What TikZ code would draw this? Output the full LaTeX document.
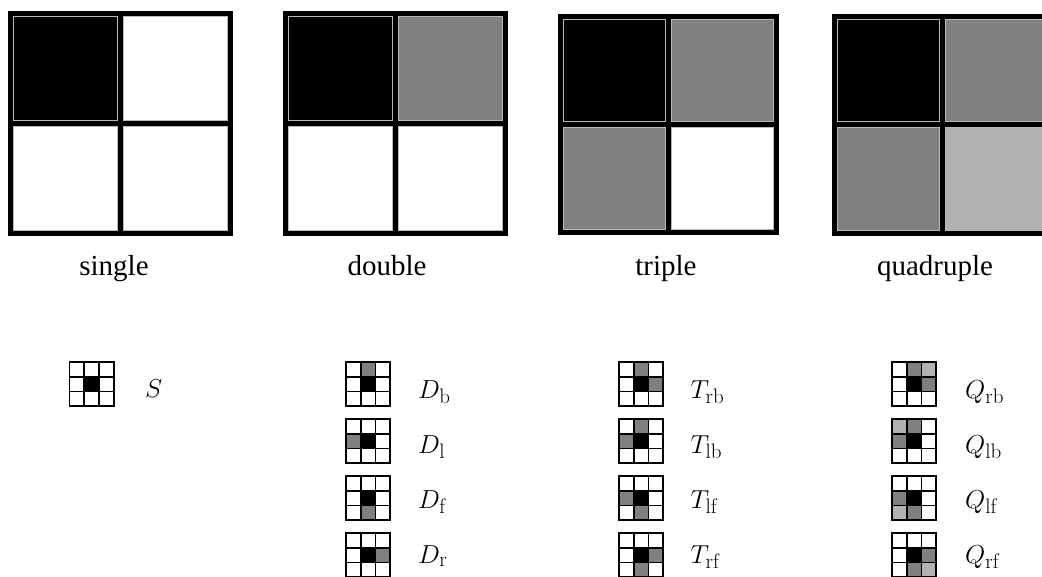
\RequirePackage{fix-cm}
\documentclass[tikz,border=0pt]{standalone}
\usepackage{fontspec}
\newfontfamily\tnr{Liberation Serif}
\DeclareMathSizes{26}{26}{21}{15}
\definecolor{midgray}{gray}{0.5}
\definecolor{litegray}{gray}{0.7}
\tikzset{
  bigcell/.style={draw=gray!55, line width=1pt},
  bigline/.style={line width=5pt},
  smallline/.style={line width=1.8pt, line cap=rect},
  caption/.style={font=\fontsize{29}{34}\selectfont\tnr, anchor=base, inner sep=0pt},
  symlabel/.style={font=\fontsize{26}{30}\selectfont, anchor=base west, inner sep=0pt},
}
% big 2x2 grid: x0, y0, cell, TL, TR, BL, BR
\newcommand\bigsq[7]{%
  \path[bigcell, fill=#4] ({#1+3},{#2+3}) rectangle ({#1+#3-3},{#2+#3-3});
  \path[bigcell, fill=#5] ({#1+#3+3},{#2+3}) rectangle ({#1+2*#3-3},{#2+#3-3});
  \path[bigcell, fill=#6] ({#1+3},{#2+#3+3}) rectangle ({#1+#3-3},{#2+2*#3-3});
  \path[bigcell, fill=#7] ({#1+#3+3},{#2+#3+3}) rectangle ({#1+2*#3-3},{#2+2*#3-3});
  \draw[bigline] (#1,#2) rectangle ({#1+2*#3},{#2+2*#3});
  \draw[bigline] ({#1+#3},#2) -- ({#1+#3},{#2+2*#3});
  \draw[bigline] (#1,{#2+#3}) -- ({#1+2*#3},{#2+#3});
}
% small 3x3 icon: x0, y0, list col/row/colour
\newcommand\icon[3]{%
  \foreach \cc/\rr/\col in {#3} {
    \fill[\col] ({#1+\cc*14.7},{#2+\rr*14.7}) rectangle +(14.7,14.7);
  }
  \fill[black] ({#1+14.7},{#2+14.7}) rectangle +(14.7,14.7);
  \foreach \k in {0,1,2,3} {
    \draw[smallline] ({#1+\k*14.7},#2) -- +(0,44.1);
    \draw[smallline] (#1,{#2+\k*14.7}) -- +(44.1,0);
  }
}
\begin{document}
\begin{tikzpicture}[x=1pt,y=-1pt]
\useasboundingbox (0,0) rectangle (1042,576);
\clip (0,0) rectangle (1042,576);
\fill[white] (0,0) rectangle (1042,576);

\bigsq{10.8}{13.2}{110}{black}{white}{white}{white}
\bigsq{285.8}{13.2}{110}{black}{midgray}{white}{white}
\bigsq{560.5}{16.5}{108.2}{black}{midgray}{midgray}{white}
\bigsq{834}{16.5}{108.3}{black}{midgray}{midgray}{litegray}

\node[caption] (cs) at (114,275) {single};
\node[caption] (cd) at (387,275) {double};
\node[caption] (ct) at (666,275) {triple};
\node[caption] (cq) at (935,275) {quadruple};

% single
\icon{69.5}{362}{1/1/black}
\node[symlabel] (ls) at (145,397) {$S$};

% double
\icon{346}{362}{1/0/midgray}
\icon{346}{419}{0/1/midgray}
\icon{346}{476}{1/2/midgray}
\icon{346}{533}{2/1/midgray}
\node[symlabel] (db) at (418,398) {$D_{\mathrm{b}}$};
\node[symlabel] (dl) at (418,453) {$D_{\mathrm{l}}$};
\node[symlabel] (df) at (418,508) {$D_{\mathrm{f}}$};
\node[symlabel] (dr) at (418,563) {$D_{\mathrm{r}}$};

% triple
\icon{619}{362}{1/0/midgray,2/1/midgray}
\icon{619}{419}{1/0/midgray,0/1/midgray}
\icon{619}{476}{0/1/midgray,1/2/midgray}
\icon{619}{533}{2/1/midgray,1/2/midgray}
\node[symlabel] (trb) at (690.5,398) {$T_{\mathrm{rb}}$};
\node[symlabel] (tlb) at (690.5,453) {$T_{\mathrm{lb}}$};
\node[symlabel] (tlf) at (690.5,508) {$T_{\mathrm{lf}}$};
\node[symlabel] (trf) at (690.5,563) {$T_{\mathrm{rf}}$};

% quadruple
\icon{892}{362}{1/0/midgray,2/0/litegray,2/1/midgray}
\icon{892}{419}{0/0/litegray,1/0/midgray,0/1/midgray}
\icon{892}{476}{0/1/midgray,0/2/litegray,1/2/midgray}
\icon{892}{533}{2/1/midgray,1/2/midgray,2/2/litegray}
\node[symlabel] (qrb) at (965,398) {$Q_{\mathrm{rb}}$};
\node[symlabel] (qlb) at (965,453) {$Q_{\mathrm{lb}}$};
\node[symlabel] (qlf) at (965,508) {$Q_{\mathrm{lf}}$};
\node[symlabel] (qrf) at (965,563) {$Q_{\mathrm{rf}}$};
\end{tikzpicture}
\end{document}
